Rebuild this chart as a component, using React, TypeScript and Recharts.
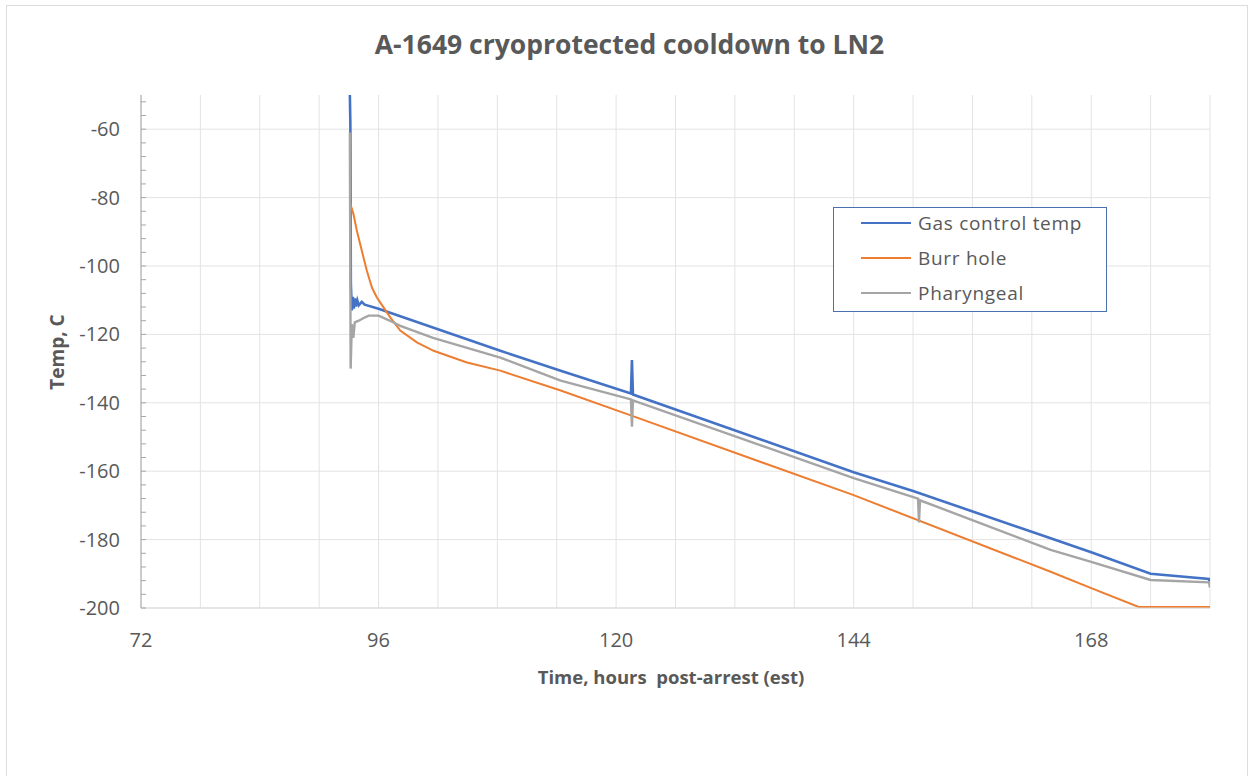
import React from 'react';
import { LineChart, Line, XAxis, YAxis, CartesianGrid, Legend } from 'recharts';

const chartTitle = 'A-1649 cryoprotected cooldown to LN2';
const xTitle = 'Time, hours  post-arrest (est)';
const yTitle = 'Temp, C';

const hourTicks = [72, 96, 120, 144, 168];
const hourGrid = [72, 78, 84, 90, 96, 102, 108, 114, 120, 126, 132, 138, 144, 150, 156, 162, 168, 174, 180];
const tempGrid = [-200, -180, -160, -140, -120, -100, -80, -60];
const tempTicks = [
  -200, -196, -192, -188, -184, -180, -176, -172, -168, -164, -160, -156, -152, -148, -144, -140,
  -136, -132, -128, -124, -120, -116, -112, -108, -104, -100, -96, -92, -88, -84, -80, -76, -72,
  -68, -64, -60, -56, -52,
];

const seriesNames = ['Gas control temp', 'Burr hole', 'Pharyngeal'];
const seriesColors = ['#4472C4', '#ED7D31', '#A5A5A5'];

// [hours post-arrest, temperature C]
const gasControl: [number, number][] = [
  [93.1, -50], [93.15, -58], [93.2, -105], [93.3, -113], [93.4, -109], [93.5, -112.5],
  [93.6, -109.5], [93.7, -111.8], [93.85, -110], [94.0, -111.5], [94.3, -110.5], [94.6, -111.3],
  [96, -112.5], [108.3, -124.8], [114.4, -130.6],
  [121.5, -137.3], [121.6, -127.5], [121.7, -137.6], [144, -160.3], [150, -165.8], [163.9, -179.6],
  [168, -183.7], [174, -190], [179.9, -191.5], [180, -193],
];

const burrHole: [number, number][] = [
  [93.1, -81.5], [93.3, -83.2], [93.47, -84.9], [93.81, -89.7], [94.14, -93.6], [94.48, -97.5], [94.82, -101.4],
  [95.33, -106.3], [95.83, -109.2], [96.5, -112.1], [97.18, -115.0], [98.19, -118.9], [99.87, -122.3],
  [101.56, -124.8], [104.93, -128.2], [108.3, -130.6], [114.4, -136.4], [121.2, -143.4], [144, -167],
  [163.9, -189.4], [168, -194.2], [172.8, -199.7], [180, -199.7],
];

const pharyngeal: [number, number][] = [
  [93.1, -61], [93.18, -130], [93.3, -117], [93.45, -121], [93.6, -116.5], [94, -116],
  [94.5, -115.2], [95, -114.5], [96, -114.5], [97, -115.8], [98.2, -117.5], [101.5, -121],
  [108.3, -126.8], [114.4, -133.5],
  [121.5, -139], [121.6, -147], [121.7, -139.3], [144, -162], [150.5, -168], [150.6, -175],
  [150.7, -168.5], [163.9, -183], [168, -186.5], [174, -191.8], [179.9, -192.5], [180, -194],
];

const toRows = (pts: [number, number][]) => pts.map(([t, v]) => ({ t, v }));

const FONT = "'Open Sans', 'Liberation Sans', sans-serif";
const TEXT = '#595959';
const TICK_MARGIN = 21;

const YTick = (props: any) => {
  const { x, y, payload } = props;
  const ax = x + TICK_MARGIN;
  const v = payload.value as number;
  return (
    <g>
      <line x1={ax} x2={ax + 5} y1={y} y2={y} stroke="#A6A6A6" strokeWidth={1} />
      {v % 20 === 0 && (
        <text x={x} y={y} dy={7} textAnchor="end" fill={TEXT} fontSize={20} fontFamily={FONT}>
          {v}
        </text>
      )}
    </g>
  );
};

const LegendBox = () => (
  <div
    style={{
      width: 274,
      height: 105,
      boxSizing: 'border-box',
      border: '1.5px solid #4A70B0',
      background: '#fff',
      position: 'relative',
      fontFamily: FONT,
    }}
  >
    {seriesNames.map((n, i) => (
      <div key={n} style={{ position: 'absolute', left: 0, top: 1 + i * 35, height: 28, display: 'flex', alignItems: 'center' }}>
        <div style={{ marginLeft: 27, width: 50, height: 2, background: seriesColors[i] }} />
        <span style={{ marginLeft: 7, fontSize: 19, color: TEXT, letterSpacing: 0.7, whiteSpace: 'nowrap' }}>{n}</span>
      </div>
    ))}
  </div>
);

export default function App() {
  return (
    <div style={{ position: 'absolute', left: 0, top: 0, width: 1251, height: 776, background: '#fff', overflow: 'hidden' }}>
      <div style={{ position: 'absolute', left: 6, top: 5, width: 1242, height: 800, border: '1px solid #DCDCDC', boxSizing: 'border-box' }} />
      <div
        style={{
          position: 'absolute', left: 0, top: 26, width: 1251, textAlign: 'center', fontFamily: FONT,
          fontWeight: 700, fontSize: 26.5, color: TEXT, paddingLeft: 4, whiteSpace: 'nowrap',
        }}
      >
        {chartTitle}
      </div>
      <div
        style={{
          position: 'absolute', left: 671 - 300, top: 664, width: 600, textAlign: 'center', fontFamily: FONT,
          fontWeight: 700, fontSize: 18.5, color: TEXT, whiteSpace: 'pre',
        }}
      >
        {xTitle}
      </div>
      <div
        style={{
          position: 'absolute', left: 57 - 100, top: 352 - 13, width: 200, height: 26, lineHeight: '26px', textAlign: 'center',
          fontFamily: FONT, fontWeight: 700, fontSize: 19, color: TEXT, transform: 'rotate(-90deg)', whiteSpace: 'nowrap',
        }}
      >
        {yTitle}
      </div>
      <LineChart width={1251} height={776} margin={{ top: 95, right: 41, bottom: 128, left: 0 }} style={{ position: 'absolute', left: 0, top: 0 }}>
        <CartesianGrid stroke="#E3E3E3" strokeWidth={1} horizontalValues={tempGrid} verticalValues={hourGrid} />
        <XAxis
          dataKey="t"
          type="number"
          domain={[72, 180]}
          ticks={hourTicks}
          interval={0}
          allowDataOverflow
          height={40}
          tickSize={0}
          tickMargin={25}
          tickLine={false}
          axisLine={{ stroke: '#D9D9D9' }}
          tick={{ fill: TEXT, fontSize: 20, fontFamily: FONT }}
        />
        <YAxis
          dataKey="v"
          type="number"
          domain={[-200, -50]}
          ticks={tempTicks}
          interval={0}
          allowDataOverflow
          width={141}
          tickSize={0}
          tickMargin={TICK_MARGIN}
          tickLine={false}
          axisLine={{ stroke: '#A6A6A6' }}
          tick={<YTick />}
        />
        <Line data={toRows(gasControl)} dataKey="v" name={seriesNames[0]} stroke={seriesColors[0]} strokeWidth={2.6} dot={false} isAnimationActive={false} />
        <Line data={toRows(burrHole)} dataKey="v" name={seriesNames[1]} stroke={seriesColors[1]} strokeWidth={2} dot={false} isAnimationActive={false} />
        <Line data={toRows(pharyngeal)} dataKey="v" name={seriesNames[2]} stroke={seriesColors[2]} strokeWidth={2.4} dot={false} isAnimationActive={false} />
        <Legend
          layout="vertical"
          align="center"
          verticalAlign="middle"
          content={() => <LegendBox />}
          wrapperStyle={{ position: 'absolute', left: 833, top: 207, width: 274, height: 105, margin: 0 }}
        />
      </LineChart>
    </div>
  );
}
